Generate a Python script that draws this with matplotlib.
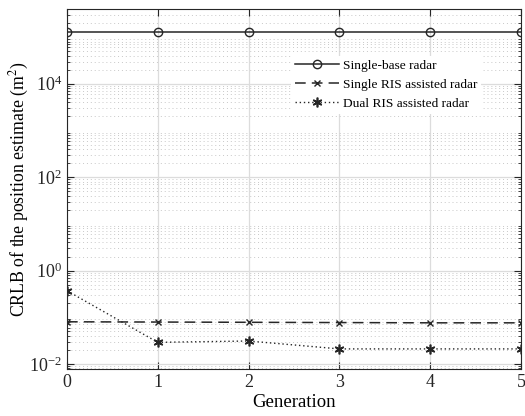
import numpy as np
import matplotlib
matplotlib.use("Agg")
import matplotlib.pyplot as plt
from matplotlib.ticker import LogLocator, NullFormatter

plt.rcParams['font.family'] = ['Liberation Serif', 'DejaVu Serif']
plt.rcParams['mathtext.fontset'] = 'stix'

# data
generation = [0, 1, 2, 3, 4, 5]
single_base = [1.3e5, 1.3e5, 1.3e5, 1.3e5, 1.3e5, 1.3e5]
single_ris = [0.080, 0.079, 0.078, 0.077, 0.076, 0.076]
dual_ris = [0.37, 0.029, 0.031, 0.021, 0.021, 0.021]

fig = plt.figure(figsize=(5.25, 4.16), dpi=100)
ax = fig.add_axes([0.1276, 0.113, 0.8648, 0.8654])

lc = '#262626'
ax.plot(generation, single_base, '-', color=lc, lw=1.1, marker='o', ms=6,
        mfc='none', mec=lc, mew=1.0, label='Single-base radar')
ax.plot(generation, single_ris, color=lc, lw=1.1, ls=(0, (7, 4)), marker='x', ms=5,
        mew=1.0, label='Single RIS assisted radar')
ax.plot(generation, dual_ris, color=lc, lw=1.0, ls=(0, (1, 2)), marker=(6, 2, 0), ms=7,
        mew=1.2, label='Dual RIS assisted radar')

ax.set_yscale('log')
ax.set_xlim(0, 5)
ax.set_ylim(0.0078, 4e5)
ax.set_xticks(generation)
ax.set_yticks([1e-2, 1e0, 1e2, 1e4])
ax.yaxis.set_minor_locator(LogLocator(base=10, subs=np.arange(2, 10), numticks=50))
ax.yaxis.set_minor_formatter(NullFormatter())

ax.grid(True, which='major', color='#dcdcdc', lw=0.9, ls='-')
ax.grid(True, which='minor', axis='y', color='#c8c8c8', lw=0.7, ls=(0, (1, 3)))
ax.set_axisbelow(True)

ax.tick_params(which='both', direction='in', top=True, right=True, labelsize=13,
               colors='#262626')
ax.tick_params(which='major', length=5)
ax.tick_params(which='minor', length=2.5)
for s in ax.spines.values():
    s.set_color('#262626')
    s.set_linewidth(0.8)

ax.set_xlabel('Generation', fontsize=13.5, labelpad=2)
ax.set_ylabel('CRLB of the position estimate (m$^2$)', fontsize=12.8, labelpad=-1.5)

leg = ax.legend(loc='upper left', bbox_to_anchor=(0.494, 0.87), fontsize=9.6, frameon=True,
                handlelength=3.3, handletextpad=0.25, labelspacing=0.5,
                borderpad=0.3, borderaxespad=0, fancybox=False)
leg.get_frame().set_edgecolor('none')
leg.get_frame().set_facecolor('white')
leg.get_frame().set_alpha(1.0)

fig.savefig('out.png', dpi=100)
